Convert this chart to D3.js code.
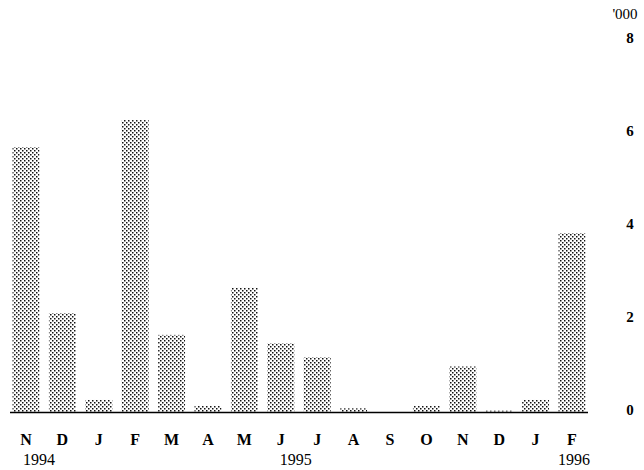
<!DOCTYPE html>
<html>
<head>
<meta charset="utf-8">
<script src="https://cdn.jsdelivr.net/npm/d3@7"></script>
<style>
  html, body { margin: 0; padding: 0; background: #fff; }
  svg { display: block; }
</style>
</head>
<body>
<svg id="chart" width="644" height="470"></svg>
<script>
const months = ["N","D","J","F","M","A","M","J","J","A","S","O","N","D","J","F"];
const values = [5.72, 2.15, 0.28, 6.30, 1.68, 0.15, 2.69, 1.50, 1.20, 0.10, 0, 0.15, 1.00, 0.05, 0.28, 3.87];
const yearLabels = [{idx: 0, label: "1994", shift: 13}, {idx: 7, label: "1995", shift: 15}, {idx: 15, label: "1996", shift: 2}];
const yTicks = [0, 2, 4, 6, 8];
const unitLabel = "'000";

const svg = d3.select("#chart");
const defs = svg.append("defs");
const pat = defs.append("pattern")
  .attr("id", "stipple").attr("patternUnits", "userSpaceOnUse")
  .attr("width", 4).attr("height", 4);
pat.append("rect").attr("width", 4).attr("height", 4).attr("fill", "#fff");
pat.append("rect").attr("x", 0).attr("y", 0).attr("width", 1.5).attr("height", 1.5).attr("fill", "#111");
pat.append("rect").attr("x", 2).attr("y", 2).attr("width", 1.5).attr("height", 1.5).attr("fill", "#111");

const keys = months.map((m, i) => i);
const x = d3.scaleBand().domain(keys).range([7.8, 590.2]).paddingInner(0.26).paddingOuter(0.13);
const y = d3.scaleLinear().domain([0, 8]).range([413, 41]);

svg.append("g").selectAll("rect").data(values).join("rect")
  .attr("x", (d, i) => x(i))
  .attr("width", x.bandwidth())
  .attr("y", d => y(d))
  .attr("height", d => y(0) - y(d))
  .attr("fill", "url(#stipple)");

// baseline
svg.append("line")
  .attr("x1", 10).attr("x2", 588)
  .attr("y1", y(0) - 0.5).attr("y2", y(0) - 0.5)
  .attr("stroke", "#000").attr("stroke-width", 1.5);

// month labels
svg.append("g").selectAll("text").data(months).join("text")
  .attr("x", (d, i) => x(i) + x.bandwidth() / 2)
  .attr("y", 445)
  .attr("text-anchor", "middle")
  .attr("font-family", "Liberation Serif, serif")
  .attr("font-weight", "bold")
  .attr("font-size", 16)
  .text(d => d);

// year labels
svg.append("g").selectAll("text").data(yearLabels).join("text")
  .attr("x", d => x(d.idx) + x.bandwidth() / 2 + d.shift)
  .attr("y", 465)
  .attr("text-anchor", "middle")
  .attr("font-family", "Liberation Serif, serif")
  .attr("font-size", 16)
  .text(d => d.label);

// y-axis labels on right
svg.append("g").selectAll("text").data(yTicks).join("text")
  .attr("x", 630)
  .attr("y", d => y(d) + 2)
  .attr("text-anchor", "middle")
  .attr("font-family", "Liberation Serif, serif")
  .attr("font-weight", "bold")
  .attr("font-size", 15)
  .text(d => d);

svg.append("text")
  .attr("x", 625).attr("y", 19)
  .attr("text-anchor", "middle")
  .attr("font-family", "Liberation Serif, serif")
  .attr("font-size", 15)
  .text(unitLabel);
</script>
</body>
</html>
